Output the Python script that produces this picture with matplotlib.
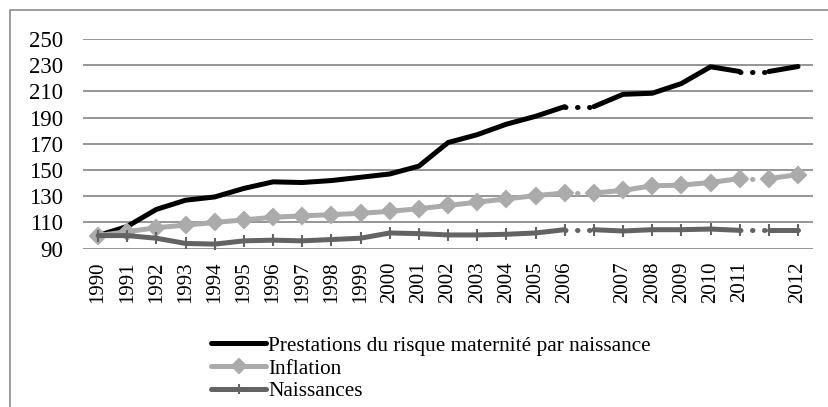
import numpy as np
import matplotlib
matplotlib.use("Agg")
import matplotlib.pyplot as plt
from matplotlib.patches import Rectangle

# catégories (deux positions vides = ruptures de série)
annees = ["1990", "1991", "1992", "1993", "1994", "1995", "1996", "1997", "1998",
          "1999", "2000", "2001", "2002", "2003", "2004", "2005", "2006", "",
          "2007", "2008", "2009", "2010", "2011", "", "2012"]

prestations = [100, 107, 120, 127, 129.5, 136, 141, 140.5, 142, 144.5, 147, 153,
               171, 177, 185, 191, 198.4, 198.4, 207.8, 208.6, 216, 228.8, 225.2,
               225.2, 229]
inflation = [100, 103, 106, 108, 110, 112, 114, 115, 116, 117, 118.5, 120.5,
             123, 125.5, 128, 130.5, 132.5, 132.5, 134.5, 138, 138.5, 140.5,
             143.5, 143.5, 146.5]
naissances = [100, 100, 98, 94, 93.5, 96, 96.5, 96, 97, 98, 102, 101.5, 100.5,
              100.5, 101, 102, 104.5, 104.5, 103.5, 104.5, 104.5, 105, 104,
              104, 104]

# segments continus / pointillés (indices)
segments = [(0, 16), (17, 22), (23, 24)]
ruptures = [(16, 17), (22, 23)]

plt.rcParams["font.family"] = ["Liberation Serif", "DejaVu Serif"]

W, H = 829, 407
fig = plt.figure(figsize=(W / 100, H / 100), dpi=100)
ax = fig.add_axes([83.5 / W, (H - 248.7) / H, (812.6 - 83.5) / W, (248.7 - 39) / H])

x = np.arange(len(annees))
gris_grille = "#8c8c8c"

series = [
    (prestations, "Prestations du risque maternité par naissance", "#000000", None, 0),
    (inflation, "Inflation", "#ababab", "D", 8.5),
    (naissances, "Naissances", "#636363", "|", 8),
]

for vals, nom, col, mk, ms in series:
    vals = np.array(vals)
    for a, b in segments:
        ax.plot(x[a:b + 1], vals[a:b + 1], color=col, lw=3.6, marker=mk, ms=ms,
                mew=1.5, solid_capstyle="round", solid_joinstyle="round", zorder=3)
    for a, b in ruptures:
        ax.plot(x[a:b + 1], vals[a:b + 1], color=col, lw=3.6,
                linestyle=(0, (0.1, 2.3)), dash_capstyle="round", zorder=3)
    ax.plot([], [], color=col, lw=3.6, marker=mk, ms=ms - 1.5 if ms else 0,
            mew=1.5, solid_capstyle="round", label=nom)

ax.set_xlim(-0.5, len(annees) - 0.5)
ax.set_ylim(90, 250)
ax.set_yticks(np.arange(90, 251, 20))
ax.set_xticks(x)
ax.set_xticklabels(annees, rotation=90)
ax.tick_params(axis="x", length=0, pad=9, labelsize=15)
ax.tick_params(axis="y", length=0, pad=14.5, labelsize=16.5)
ax.grid(axis="y", color=gris_grille, lw=1.3)
ax.set_axisbelow(True)
for s in ax.spines.values():
    s.set_visible(False)

fig.legend(loc="upper left", bbox_to_anchor=(211 / W, 1 - 336 / H), frameon=False,
           fontsize=15.3, handlelength=2.6, handletextpad=0.1, labelspacing=0.13,
           borderpad=0, borderaxespad=0)

fig.patches.append(Rectangle((10 / W, -0.1), 2, 1.1 - 10 / H, transform=fig.transFigure,
                             fill=False, edgecolor=gris_grille, lw=1.2))

fig.savefig("out.png", dpi=100)
